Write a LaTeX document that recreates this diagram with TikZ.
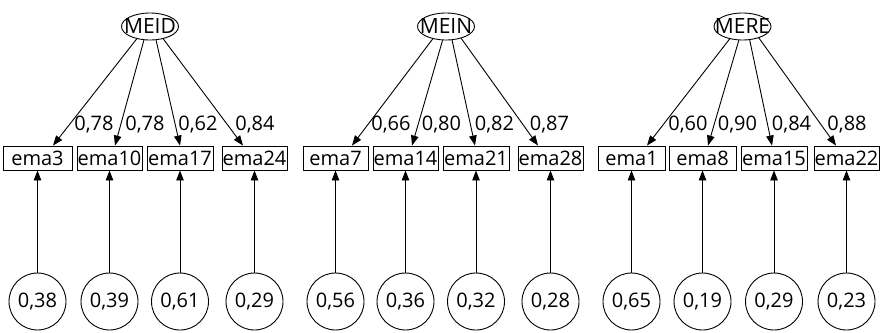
\documentclass[tikz,border=0pt]{standalone}
\usepackage{fontspec}
\setmainfont{Open Sans}
\usetikzlibrary{arrows.meta,calc,shapes.geometric}
\begin{document}
\begin{tikzpicture}[x=1pt,y=-1pt,line width=0.9pt,
  obs/.style={draw,rectangle,minimum height=24pt,inner sep=0pt,font=\fontsize{20}{20}\selectfont},
  lat/.style={draw,ellipse,minimum width=57pt,minimum height=27pt,inner sep=0pt,font=\fontsize{21}{21}\selectfont},
  err/.style={draw,circle,minimum size=57pt,inner sep=0pt,font=\fontsize{20}{20}\selectfont},
  load/.style={-{Triangle[length=10pt,width=7.5pt]}},
  lbl/.style={anchor=base,inner sep=0pt,font=\fontsize{20}{20}\selectfont}]
\useasboundingbox (0,0) rectangle (882,332);
% latent
\node[lat] (MEID) at (150,26.5) {\makebox[0pt]{MEID}};
\node[lat] (MEIN) at (446,26.5) {\makebox[0pt]{MEIN}};
\node[lat] (MERE) at (742.5,26.5) {\makebox[0pt]{MERE}};
% observed
\node[obs,minimum width=69pt] (ema3)  at (37.5,158) {ema3};
\node[obs,minimum width=65pt] (ema10) at (109.5,158) {ema10};
\node[obs,minimum width=66pt] (ema17) at (180,158) {ema17};
\node[obs,minimum width=65pt] (ema24) at (254.5,158) {ema24};
\node[obs,minimum width=65pt] (ema7)  at (335.5,158) {ema7};
\node[obs,minimum width=65pt] (ema14) at (405.5,158) {ema14};
\node[obs,minimum width=66pt] (ema21) at (476,158) {ema21};
\node[obs,minimum width=65pt] (ema28) at (550.5,158) {ema28};
\node[obs,minimum width=67pt] (ema1)  at (631.5,158) {ema1};
\node[obs,minimum width=67pt] (ema8)  at (702.5,158) {ema8};
\node[obs,minimum width=66pt] (ema15) at (774,158) {ema15};
\node[obs,minimum width=65pt] (ema22) at (846.5,158) {ema22};
% errors
\foreach \b/\v [count=\i] in {ema3/0{,}38,ema10/0{,}39,ema17/0{,}61,ema24/0{,}29,ema7/0{,}56,ema14/0{,}36,ema21/0{,}32,ema28/0{,}28,ema1/0{,}65,ema8/0{,}19,ema15/0{,}29,ema22/0{,}23}{
  \path (\b.center) ++(0,143.5) node[err] (e\i) {\v};
  \draw[load] (e\i) -- (\b);
}
% loadings
\draw[load] (MEID.223) -- ([xshift=15.5pt]ema3.north);
\draw[load] (MEID.246) -- ([xshift=5.5pt]ema10.north);
\draw[load] (MEID.294) -- ([xshift=0pt]ema17.north);
\draw[load] (MEID.317) -- ([xshift=-11.5pt]ema24.north);
\draw[load] (MEIN.223) -- ([xshift=16.5pt]ema7.north);
\draw[load] (MEIN.256) -- ([xshift=6.5pt]ema14.north);
\draw[load] (MEIN.294) -- ([xshift=-1pt]ema21.north);
\draw[load] (MEIN.322) -- ([xshift=-12.5pt]ema28.north);
\draw[load] (MERE.224) -- ([xshift=15.5pt]ema1.north);
\draw[load] (MERE.255) -- ([xshift=5.5pt]ema8.north);
\draw[load] (MERE.298) -- ([xshift=-2pt]ema15.north);
\draw[load] (MERE.325) -- ([xshift=-10.5pt]ema22.north);
% labels
\node[lbl] (l1) at (94,130) {0,78};
\node[lbl] (l2) at (145,130) {0,78};
\node[lbl] (l3) at (198,130) {0,62};
\node[lbl] (l4) at (255,130) {0,84};
\node[lbl] (l5) at (391,130) {0,66};
\node[lbl] (l6) at (441.5,130) {0,80};
\node[lbl] (l7) at (494.5,130) {0,82};
\node[lbl] (l8) at (549.5,130) {0,87};
\node[lbl] (l9) at (688,130) {0,60};
\node[lbl] (l10) at (737.5,130) {0,90};
\node[lbl] (l11) at (791.5,130) {0,84};
\node[lbl] (l12) at (847,130) {0,88};
\end{tikzpicture}
\end{document}
